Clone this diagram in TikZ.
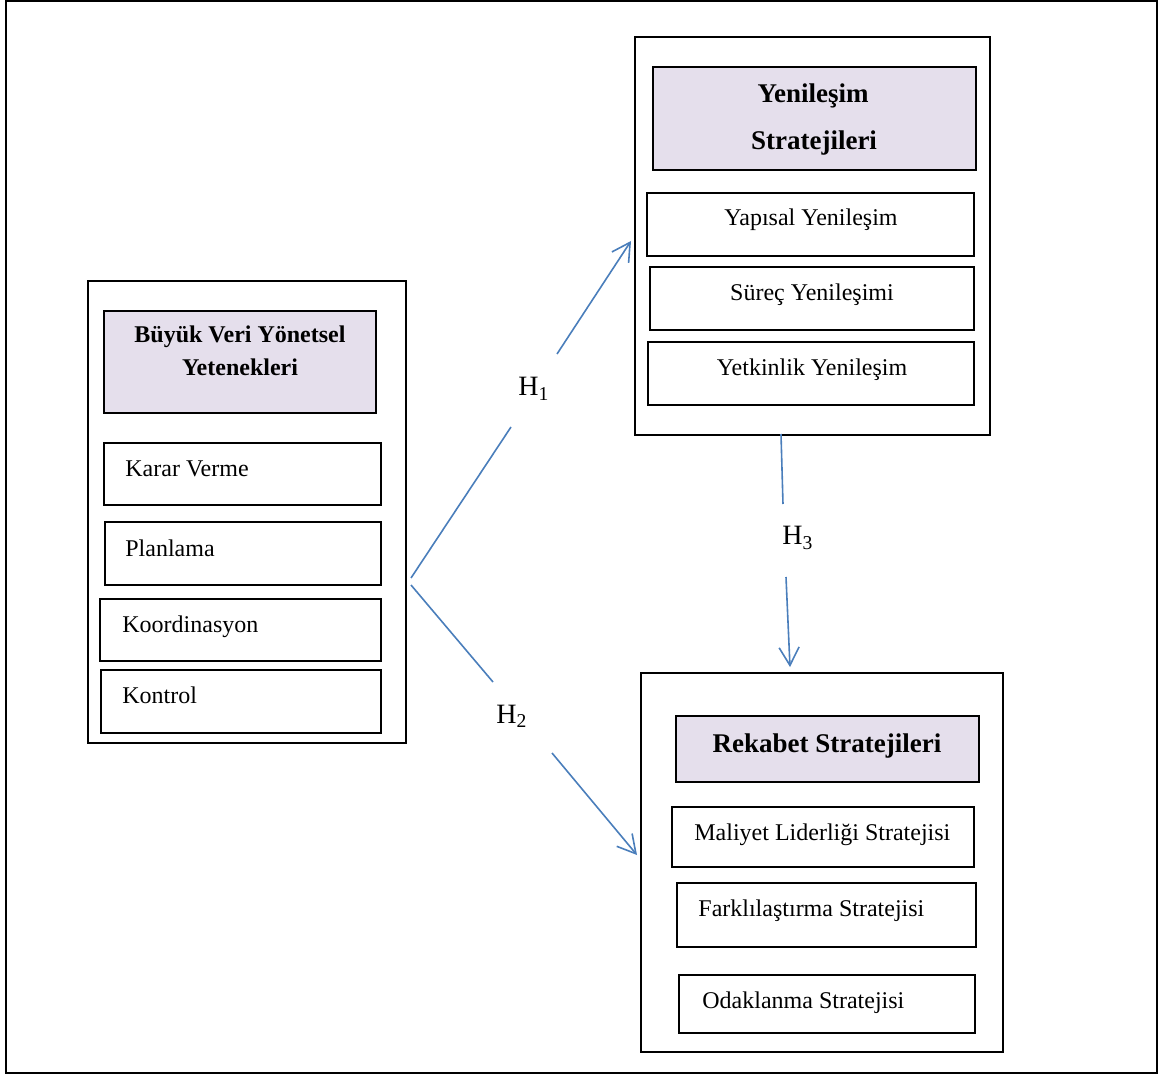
\documentclass[tikz,border=0pt]{standalone}
\usepackage{fontspec}
\setmainfont{Liberation Serif}
\usetikzlibrary{fit,arrows.meta}
\definecolor{lilac}{HTML}{E5DFEC}
\definecolor{linkblue}{HTML}{4A7EBB}
\tikzset{
  box/.style={draw=black, line width=1pt, inner sep=0pt, fill=white},
  headbox/.style={box, fill=lilac},
  framebox/.style={draw=black, line width=1.3pt, inner sep=0pt},
  txt/.style={font=\fontsize{12}{14}\selectfont, inner sep=0pt},
  btxt/.style={font=\fontsize{12}{14}\selectfont\bfseries, inner sep=0pt},
  bbtxt/.style={font=\fontsize{13.5}{16}\selectfont\bfseries, inner sep=0pt},
  hlab/.style={font=\fontsize{14}{16}\selectfont, inner sep=0pt, anchor=base west},
  link/.style={draw=linkblue, line width=0.8pt},
  arrowlink/.style={link, -{Straight Barb[length=9pt,width=10pt]}},
}
\begin{document}
\begin{tikzpicture}[x=0.5pt, y=-0.5pt]
\useasboundingbox (0,0) rectangle (1163,1075);
\node[framebox, fit={(6,1) (1157,1073)}] (frame) {};

% Left group
\node[box, fit={(88,281) (406,743)}] (lg) {};
\node[headbox, fit={(104,311) (376,413)}] (lgh) {};
\node[btxt, anchor=base] (lght1) at (240,343) {Büyük Veri Yönetsel};
\node[btxt, anchor=base] (lght2) at (240,376) {Yetenekleri};
\node[box, fit={(104,443) (381,505)}] (b1) {};
\node[txt, anchor=base west] (t1) at (125,476) {Karar Verme};
\node[box, fit={(105,522) (381,585)}] (b2) {};
\node[txt, anchor=base west] (t2) at (125,556) {Planlama};
\node[box, fit={(100,599) (381,661)}] (b3) {};
\node[txt, anchor=base west] (t3) at (122,632) {Koordinasyon};
\node[box, fit={(101,670) (381,733)}] (b4) {};
\node[txt, anchor=base west] (t4) at (122,703) {Kontrol};

% Top right group
\node[box, fit={(635,37) (990,435)}] (tg) {};
\node[headbox, fit={(653,67) (976,170)}] (tgh) {};
\node[bbtxt, anchor=base] (tght1) at (813,103) {Yenileşim};
\node[bbtxt, anchor=base] (tght2) at (814,150) {Stratejileri};
\node[box, fit={(647,193) (974,256)}] (y1) {};
\node[txt, anchor=base] (yt1) at (811,226) {Yapısal Yenileşim};
\node[box, fit={(650,267) (974,330)}] (y2) {};
\node[txt, anchor=base] (yt2) at (812,301) {Süreç Yenileşimi};
\node[box, fit={(648,342) (974,405)}] (y3) {};
\node[txt, anchor=base] (yt3) at (812,376) {Yetkinlik Yenileşim};

% Bottom right group
\node[box, fit={(641,673) (1003,1052)}] (rg) {};
\node[headbox, fit={(676,716) (979,782)}] (rgh) {};
\node[bbtxt, anchor=base] (rght) at (827,752) {Rekabet Stratejileri};
\node[box, fit={(672,807) (974,867)}] (r1) {};
\node[txt, anchor=base west] (rt1) at (694,840) {Maliyet Liderliği Stratejisi};
\node[box, fit={(677,883) (976,947)}] (r2) {};
\node[txt, anchor=base west] (rt2) at (698,916) {Farklılaştırma Stratejisi};
\node[box, fit={(679,975) (975,1033)}] (r3) {};
\node[txt, anchor=base west] (rt3) at (702,1008) {Odaklanma Stratejisi};

% Connector end points
\coordinate (s1) at (411,578);
\coordinate (h1a) at (511,427);
\coordinate (h1b) at (557,354);
\coordinate (e1) at (631,241);
\coordinate (s2) at (411,585);
\coordinate (h2a) at (493,682);
\coordinate (h2b) at (552,753);
\coordinate (e2) at (637,855);
\coordinate (s3) at (781,434);
\coordinate (h3a) at (783,504);
\coordinate (h3b) at (786,577);
\coordinate (e3) at (790,667);

% Connectors
\draw[link] (s1) -- (h1a);
\draw[arrowlink] (h1b) -- (e1);
\draw[link] (s2) -- (h2a);
\draw[arrowlink] (h2b) -- (e2);
\draw[link] (s3) -- (h3a);
\draw[arrowlink] (h3b) -- (e3);

% Labels
\node[hlab] (H1) at (518,396) {H\textsubscript{1}};
\node[hlab] (H2) at (496,723) {H\textsubscript{2}};
\node[hlab] (H3) at (782,545) {H\textsubscript{3}};
\end{tikzpicture}
\end{document}
